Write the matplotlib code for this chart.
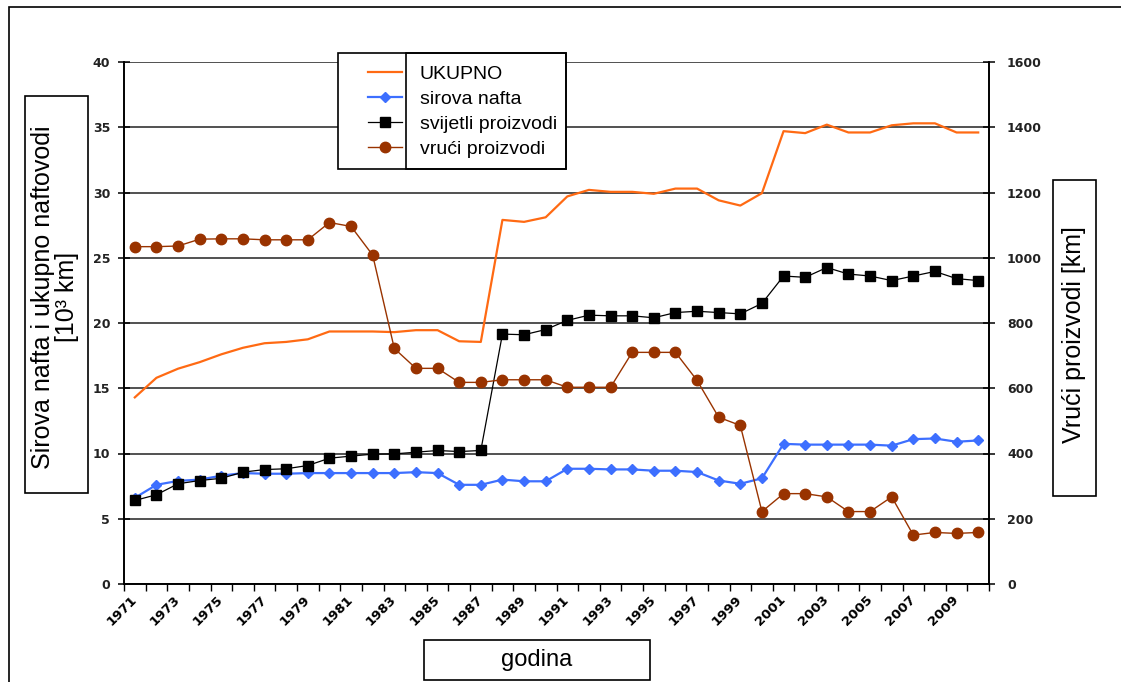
import numpy as np
import matplotlib
matplotlib.use('Agg')
import matplotlib.pyplot as plt
from matplotlib.patches import Rectangle

# Data
years = list(range(1971, 2011))
ukupno = [14.3, 15.8, 16.5, 17.0, 17.6, 18.1, 18.45, 18.55, 18.75, 19.35,
          19.35, 19.35, 19.3, 19.45, 19.45, 18.6, 18.55, 27.9, 27.75, 28.1,
          29.7, 30.2, 30.05, 30.05, 29.9, 30.3, 30.3, 29.4, 29.0, 29.95,
          34.7, 34.55, 35.2, 34.6, 34.6, 35.15, 35.3, 35.3, 34.6, 34.6]
sirova = [6.6, 7.6, 7.9, 8.0, 8.3, 8.5, 8.45, 8.45, 8.5, 8.5,
          8.5, 8.5, 8.5, 8.57, 8.5, 7.6, 7.6, 8.0, 7.87, 7.87,
          8.83, 8.83, 8.78, 8.78, 8.68, 8.68, 8.58, 7.93, 7.68, 8.1,
          10.74, 10.68, 10.68, 10.68, 10.68, 10.6, 11.1, 11.15, 10.9, 11.0]
svijetli = [6.4, 6.84, 7.68, 7.93, 8.1, 8.57, 8.77, 8.83, 9.08, 9.64,
            9.8, 9.95, 9.97, 10.1, 10.23, 10.15, 10.23, 19.15, 19.1, 19.5,
            20.2, 20.6, 20.55, 20.55, 20.4, 20.8, 20.9, 20.8, 20.7, 21.5,
            23.6, 23.5, 24.25, 23.75, 23.6, 23.25, 23.6, 23.95, 23.4, 23.25]
vruci = [1034, 1034, 1036, 1057, 1058, 1058, 1055, 1055, 1055, 1108,
         1096, 1008, 722, 661, 661, 618, 618, 626, 626, 626,
         603, 603, 603, 710, 710, 710, 624, 511, 486, 222,
         277, 277, 267, 222, 222, 267, 150, 158, 155, 158]
labels = ['UKUPNO', 'sirova nafta', 'svijetli proizvodi', 'vrući proizvodi']

W, H = 1121, 682
def fx(px): return px / W
def fy(py): return 1 - py / H

fig = plt.figure(figsize=(W / 100, H / 100), dpi=100)
ax1 = fig.add_axes([fx(124), fy(584), (989 - 124) / W, (584 - 62) / H])
ax2 = ax1.twinx()

x = np.arange(len(years))
l_uk, = ax1.plot(x, ukupno, color='#FF6A13', linewidth=1.6, zorder=3)
l_si, = ax1.plot(x, sirova, color='#3D6FFF', linewidth=1.6, marker='D', markersize=5, zorder=4)
l_sv, = ax1.plot(x, svijetli, color='black', linewidth=0.9, marker='s', markersize=7, zorder=5)
l_vr, = ax2.plot(x, vruci, color='#993300', linewidth=1.0, marker='o', markersize=7.5, zorder=5)

ax1.set_ylim(0, 40)
ax2.set_ylim(0, 1600)
ax1.set_xlim(-0.5, len(years) - 0.5)
ax1.set_yticks(range(0, 41, 5))
ax2.set_yticks(range(0, 1601, 200))
ax1.yaxis.grid(True, color='#222222', linewidth=1.1)
ax1.set_axisbelow(True)

# x axis: tick marks on category borders, labels every second year
ax1.set_xticks(np.arange(-0.5, len(years), 1))
ax1.set_xticklabels([])
ax1.set_xticks(x[::2], minor=True)
ax1.set_xticklabels([str(y) for y in years[::2]], minor=True, rotation=45,
                    ha='right', va='center', rotation_mode='anchor',
                    fontsize=9.5, fontweight='bold', family='DejaVu Sans')
ax1.tick_params(axis='x', which='major', direction='out', length=5, width=1)
ax1.tick_params(axis='x', which='minor', length=0, pad=10)

for ax in (ax1, ax2):
  ax.spines['top'].set_visible(False)
  for s in ax.spines.values():
    s.set_linewidth(1.2)
ax1.tick_params(axis='y', direction='inout', length=8, width=1.1, pad=6,
                labelsize=9, labelcolor='#222222')
ax2.tick_params(axis='y', direction='inout', length=8, width=1.1, pad=9,
                labelsize=9, labelcolor='#222222')
for lab in ax1.get_yticklabels() + ax2.get_yticklabels():
  lab.set_fontweight('bold')

# boxes around axis titles
def box(x0, y0, x1, y1, fill=False, z=4):
  r = Rectangle((fx(x0), fy(y1)), fx(x1 - x0), (y1 - y0) / H, transform=fig.transFigure,
                facecolor='white', fill=fill, edgecolor='black', linewidth=1.2, zorder=z)
  fig.add_artist(r)

box(9, 7, 1200, 760)
box(25, 96, 88, 493, fill=True)
box(1053, 180, 1096, 496, fill=True)
box(424, 640, 650, 680, fill=True)
fig.text(fx(55), fy(297), 'Sirova nafta i ukupno naftovodi\n[10³ km]', rotation=90,
         ha='center', va='center', fontsize=18, family='Liberation Sans', linespacing=1.0, zorder=6)
fig.text(fx(1074), fy(335), 'Vrući proizvodi [km]', rotation=90,
         ha='center', va='center', fontsize=18, family='Liberation Sans', zorder=6)
fig.text(fx(537), fy(660), 'godina', ha='center', va='center',
         fontsize=17, family='Liberation Sans', zorder=6)

# legend
box(338, 53, 566, 169, fill=True)
box(406, 53, 566, 169)
leg = fig.legend([l_uk, l_si, l_sv, l_vr], labels, loc='upper left',
                 bbox_to_anchor=(fx(368), fy(65)), borderpad=0, borderaxespad=0,
                 frameon=False, handlelength=1.75, handletextpad=0.9, labelspacing=0.38,
                 prop={'family': 'Liberation Sans', 'size': 14})
leg.set_zorder(7)

fig.savefig('out.png', dpi=100)
